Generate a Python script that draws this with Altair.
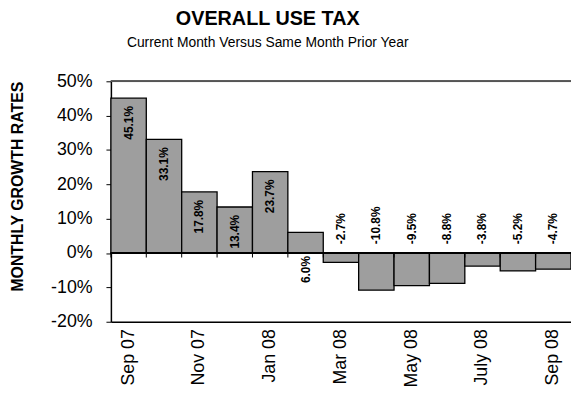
import altair as alt
import pandas as pd

months = ["Sep 07", "Oct 07", "Nov 07", "Dec 07", "Jan 08", "Feb 08", "Mar 08",
          "Apr 08", "May 08", "Jun 08", "July 08", "Aug 08", "Sep 08"]
growth = [45.1, 33.1, 17.8, 13.4, 23.7, 6.0, -2.7, -10.8, -9.5, -8.8, -3.8, -5.2, -4.7]
shown_months = months[::2]
y_ticks = [-20, -10, 0, 10, 20, 30, 40, 50]

FONT = "Liberation Sans, Arial, sans-serif"

df = pd.DataFrame({"month": months, "growth": growth})
base = alt.Chart(df).transform_calculate(
    lab="(datum.growth < 0 ? '-' : '') + format(abs(datum.growth), '.1f') + '%'"
)

xaxis = alt.Axis(values=shown_months, title=None, labelAngle=270, labelAlign="right",
                 labelBaseline="middle", labelPadding=7, ticks=False, domainColor="black",
                 domainWidth=1.5, labelFontSize=18, labelColor="black", labelFont=FONT)
xscale = alt.Scale(paddingInner=0, paddingOuter=0)
yscale = alt.Scale(domain=[-20, 50], nice=False, zero=False)
yaxis = alt.Axis(values=y_ticks, labelExpr="datum.value + '%'", title="MONTHLY GROWTH RATES",
                 grid=False, domainColor="black", domainWidth=1.5, tickColor="black",
                 tickSize=5, labelPadding=14, labelFontSize=18, labelColor="black",
                 labelFont=FONT, titleFont=FONT, titleFontSize=16, titleFontWeight="bold",
                 titleColor="black", titleAngle=270, titleAlign="center",
                 titleBaseline="middle", titleX=-94, titleY=106)


def X(**kw):
    return alt.X("month:N", sort=months, scale=xscale, axis=xaxis, **kw)


def Yfield():
    return alt.Y("growth:Q", scale=yscale, axis=yaxis)


def Ydatum(v):
    return alt.YDatum(v, scale=yscale, axis=yaxis)


bars = base.mark_bar(fill="#9e9e9e", stroke="black", strokeWidth=1.3).encode(x=X(), y=Yfield())

zero_line = base.mark_rule(color="black", strokeWidth=1.2).encode(y=Ydatum(0))
top_line = base.mark_rule(color="#555555", strokeWidth=1).encode(y=Ydatum(50))

zero_ticks = base.mark_rule(color="black", strokeWidth=1).encode(
    x=X(bandPosition=0),
    y=Ydatum(0),
    y2=alt.datum(-1.3),
)

lab_style = dict(angle=270, baseline="middle", fontSize=12, fontWeight="bold", font=FONT, color="black")

lab_big = base.transform_filter("datum.growth >= 10").mark_text(align="right", dx=-8, **lab_style).encode(
    x=X(), y=Yfield(), text="lab:N")
lab_small = base.transform_filter("datum.growth > 0 && datum.growth < 10").mark_text(align="right", dx=-3, **lab_style).encode(
    x=X(), y=Ydatum(0), text="lab:N")
lab_neg = base.transform_filter("datum.growth < 0").mark_text(align="left", dx=9, **lab_style).encode(
    x=X(), y=Ydatum(0), text="lab:N")

chart = alt.layer(bars, zero_line, top_line, zero_ticks, lab_big, lab_small, lab_neg).properties(
    width=465, height=243,
    title=alt.TitleParams("OVERALL USE TAX", subtitle="Current Month Versus Same Month Prior Year",
                          anchor="middle", dx=-74, font=FONT, fontSize=20, fontWeight="bold",
                          color="black", subtitleFont=FONT, subtitleFontSize=14,
                          subtitleColor="black", subtitlePadding=7, offset=23),
    autosize=alt.AutoSizeParams(type="none"),
    padding={"left": 104, "top": 72, "right": 0, "bottom": 76},
).configure_view(stroke=None).configure(background="white")

chart.save("out.html", embed_options={"renderer": "svg", "actions": False})
